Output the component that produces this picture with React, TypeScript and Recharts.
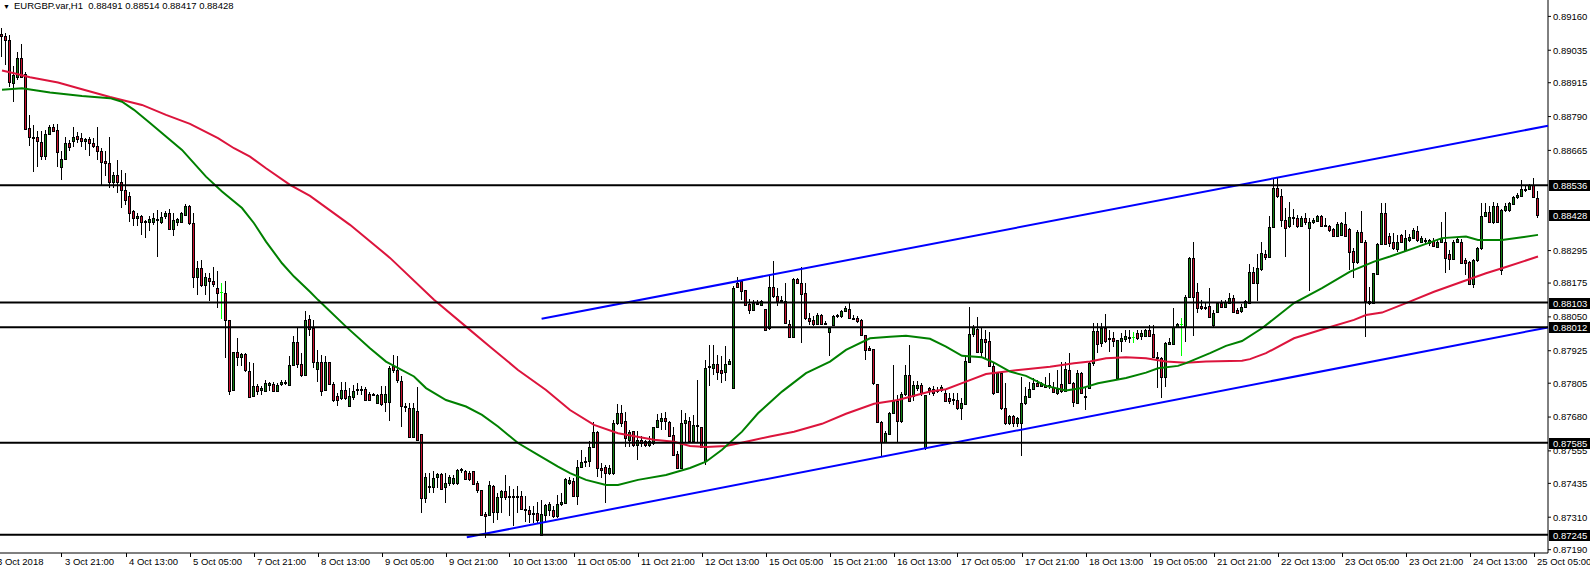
import React from 'react';
import { ComposedChart, Bar, Line, XAxis, YAxis, ReferenceLine } from 'recharts';

const title = 'EURGBP.var,H1  0.88491 0.88514 0.88417 0.88428';

const opens = [
0.89095,0.89088,0.89073,0.88913,0.88938,0.89005,0.88948,0.88747,0.88716,0.88716,
0.88695,0.88646,0.88726,0.88753,0.88741,0.88603,0.88632,0.88694,0.88698,0.88719,
0.88709,0.88699,0.88708,0.88692,0.88682,0.88663,0.88626,0.88618,0.88550,0.88575,
0.88548,0.88519,0.88497,0.88442,0.88415,0.88423,0.88406,0.88400,0.88402,0.88411,
0.88402,0.88421,0.88433,0.88374,0.88402,0.88402,0.88427,0.88460,0.88396,0.88197,
0.88230,0.88168,0.88195,0.88181,0.88156,0.88141,0.88140,0.88039,0.87781,0.87922,
0.87901,0.87914,0.87851,0.87758,0.87795,0.87781,0.87778,0.87799,0.87803,0.87778,
0.87803,0.87805,0.87797,0.87873,0.87959,0.87877,0.87836,0.88042,0.88008,0.87858,
0.87883,0.87781,0.87883,0.87801,0.87756,0.87750,0.87781,0.87721,0.87753,0.87779,
0.87781,0.87783,0.87765,0.87762,0.87731,0.87765,0.87737,0.87737,0.87867,0.87852,
0.87814,0.87721,0.87713,0.87606,0.87703,0.87618,0.87380,0.87424,0.87421,0.87457,
0.87470,0.87421,0.87436,0.87438,0.87438,0.87485,0.87479,0.87475,0.87479,0.87436,
0.87409,0.87321,0.87319,0.87426,0.87331,0.87384,0.87405,0.87387,0.87387,0.87387,
0.87387,0.87340,0.87337,0.87325,0.87325,0.87245,0.87319,0.87335,0.87337,0.87313,
0.87360,0.87364,0.87438,0.87442,0.87387,0.87495,0.87513,0.87516,0.87569,0.87623,
0.87491,0.87495,0.87473,0.87473,0.87657,0.87695,0.87664,0.87596,0.87627,0.87578,
0.87596,0.87590,0.87578,0.87584,0.87643,0.87664,0.87676,0.87660,0.87615,0.87544,
0.87492,0.87658,0.87664,0.87590,0.87650,0.87643,0.87516,0.87867,0.87861,0.87876,
0.87852,0.87845,0.87876,0.87787,0.88177,0.88181,0.88148,0.88099,0.88074,0.88101,
0.88095,0.88079,0.88009,0.88160,0.88126,0.88113,0.88107,0.88025,0.87975,0.88190,
0.88177,0.88138,0.88046,0.88037,0.88025,0.88058,0.88027,0.87996,0.88021,0.88052,
0.88052,0.88070,0.88079,0.88046,0.88046,0.88037,0.87984,0.87935,0.87931,0.87803,
0.87660,0.87586,0.87618,0.87695,0.87741,0.87664,0.87766,0.87836,0.87756,0.87787,
0.87799,0.87565,0.87786,0.87782,0.87780,0.87780,0.87768,0.87749,0.87743,0.87743,
0.87712,0.87728,0.87885,0.87986,0.88004,0.87922,0.87970,0.87961,0.87869,0.87774,
0.87844,0.87712,0.87657,0.87684,0.87657,0.87657,0.87731,0.87755,0.87782,0.87807,
0.87795,0.87798,0.87795,0.87792,0.87768,0.87802,0.87778,0.87854,0.87807,0.87733,
0.87842,0.87755,0.87786,0.87878,0.87998,0.87952,0.88010,0.87971,0.87971,0.87826,
0.87962,0.87967,0.87977,0.87977,0.87989,0.87979,0.87979,0.88002,0.87987,0.87903,
0.87899,0.87829,0.87950,0.87950,0.88014,0.88023,0.88014,0.88125,0.88266,0.88143,
0.88090,0.88088,0.88090,0.88020,0.88069,0.88100,0.88088,0.88103,0.88119,0.88075,
0.88070,0.88088,0.88103,0.88214,0.88177,0.88226,0.88282,0.88273,0.88381,0.88525,
0.88495,0.88408,0.88384,0.88418,0.88415,0.88384,0.88415,0.88378,0.88399,0.88406,
0.88423,0.88386,0.88386,0.88374,0.88349,0.88353,0.88394,0.88374,0.88295,0.88251,
0.88362,0.88325,0.88107,0.88103,0.88209,0.88320,0.88433,0.88349,0.88325,0.88300,
0.88353,0.88298,0.88335,0.88341,0.88369,0.88328,0.88335,0.88322,0.88332,0.88307,
0.88325,0.88328,0.88283,0.88263,0.88325,0.88328,0.88261,0.88254,0.88172,0.88261,
0.88304,0.88423,0.88439,0.88399,0.88458,0.88224,0.88445,0.88445,0.88467,0.88492,
0.88497,0.88522,0.88522,0.88538,0.88491,
];

const highs = [
0.89116,0.89098,0.89092,0.88975,0.89030,0.89058,0.88956,0.88796,0.88759,0.88735,
0.88737,0.88741,0.88759,0.88763,0.88763,0.88661,0.88716,0.88704,0.88753,0.88732,
0.88728,0.88710,0.88714,0.88710,0.88751,0.88673,0.88663,0.88716,0.88587,0.88630,
0.88593,0.88581,0.88513,0.88445,0.88435,0.88427,0.88408,0.88423,0.88433,0.88445,
0.88439,0.88443,0.88448,0.88433,0.88415,0.88439,0.88467,0.88464,0.88433,0.88255,
0.88261,0.88211,0.88211,0.88234,0.88218,0.88174,0.88181,0.88039,0.87922,0.87971,
0.87916,0.87918,0.87885,0.87879,0.87803,0.87793,0.87817,0.87808,0.87811,0.87805,
0.87817,0.87817,0.87904,0.87978,0.88008,0.87916,0.88070,0.88058,0.88039,0.87928,
0.87910,0.87904,0.87883,0.87811,0.87768,0.87811,0.87811,0.87787,0.87799,0.87805,
0.87795,0.87790,0.87771,0.87768,0.87765,0.87793,0.87793,0.87867,0.87910,0.87904,
0.87830,0.87731,0.87731,0.87731,0.87790,0.87618,0.87473,0.87473,0.87479,0.87473,
0.87473,0.87473,0.87467,0.87467,0.87488,0.87491,0.87485,0.87479,0.87479,0.87442,
0.87411,0.87331,0.87442,0.87430,0.87399,0.87411,0.87467,0.87424,0.87414,0.87424,
0.87405,0.87387,0.87350,0.87350,0.87368,0.87374,0.87360,0.87368,0.87350,0.87393,
0.87399,0.87454,0.87460,0.87454,0.87522,0.87559,0.87534,0.87590,0.87660,0.87627,
0.87510,0.87504,0.87504,0.87669,0.87729,0.87725,0.87697,0.87633,0.87627,0.87627,
0.87609,0.87596,0.87609,0.87645,0.87692,0.87695,0.87697,0.87664,0.87645,0.87553,
0.87705,0.87695,0.87682,0.87689,0.87818,0.87645,0.87892,0.87947,0.87947,0.87910,
0.87906,0.87941,0.87894,0.88163,0.88197,0.88187,0.88150,0.88116,0.88113,0.88113,
0.88113,0.88079,0.88200,0.88255,0.88156,0.88126,0.88175,0.88037,0.88193,0.88193,
0.88236,0.88175,0.88064,0.88052,0.88064,0.88062,0.88033,0.88012,0.88058,0.88062,
0.88076,0.88091,0.88101,0.88058,0.88052,0.88042,0.87984,0.87941,0.87931,0.87803,
0.87664,0.87627,0.87697,0.87873,0.87762,0.87771,0.87873,0.87947,0.87812,0.87812,
0.87806,0.87762,0.87792,0.87795,0.87790,0.87798,0.87782,0.87770,0.87768,0.87770,
0.87749,0.87903,0.88088,0.88020,0.88051,0.88014,0.88002,0.87995,0.87878,0.87848,
0.87848,0.87805,0.87688,0.87688,0.87682,0.87829,0.87792,0.87811,0.87823,0.87817,
0.87811,0.87829,0.87842,0.87811,0.87854,0.87885,0.87885,0.87918,0.87811,0.87854,
0.87848,0.87792,0.87885,0.88029,0.88029,0.88026,0.88059,0.88002,0.87995,0.87965,
0.87989,0.88002,0.88002,0.87995,0.88002,0.88002,0.88004,0.88020,0.88020,0.87922,
0.87903,0.87959,0.87971,0.88082,0.88026,0.88045,0.88131,0.88270,0.88328,0.88174,
0.88112,0.88100,0.88156,0.88075,0.88106,0.88112,0.88112,0.88137,0.88131,0.88082,
0.88098,0.88113,0.88246,0.88236,0.88283,0.88325,0.88298,0.88423,0.88562,0.88566,
0.88522,0.88451,0.88476,0.88448,0.88427,0.88421,0.88435,0.88415,0.88415,0.88427,
0.88427,0.88415,0.88390,0.88378,0.88399,0.88399,0.88439,0.88378,0.88304,0.88371,
0.88443,0.88335,0.88162,0.88211,0.88322,0.88472,0.88470,0.88359,0.88359,0.88353,
0.88357,0.88371,0.88357,0.88378,0.88386,0.88349,0.88341,0.88337,0.88341,0.88337,
0.88399,0.88439,0.88298,0.88335,0.88341,0.88337,0.88267,0.88258,0.88263,0.88310,
0.88472,0.88472,0.88458,0.88476,0.88470,0.88448,0.88470,0.88476,0.88497,0.88507,
0.88556,0.88534,0.88541,0.88562,0.88514,
];

const lows = [
0.89011,0.88981,0.88901,0.88845,0.88925,0.88932,0.88741,0.88682,0.88587,0.88605,
0.88630,0.88628,0.88722,0.88735,0.88605,0.88554,0.88630,0.88661,0.88679,0.88692,
0.88679,0.88667,0.88645,0.88673,0.88630,0.88538,0.88571,0.88525,0.88525,0.88507,
0.88452,0.88464,0.88399,0.88384,0.88384,0.88353,0.88341,0.88369,0.88390,0.88273,
0.88394,0.88411,0.88372,0.88349,0.88384,0.88396,0.88421,0.88390,0.88156,0.88131,
0.88162,0.88131,0.88107,0.88162,0.88082,0.88042,0.87898,0.87762,0.87778,0.87867,
0.87867,0.87845,0.87754,0.87756,0.87762,0.87762,0.87771,0.87778,0.87774,0.87771,
0.87795,0.87799,0.87793,0.87867,0.87861,0.87827,0.87830,0.87978,0.87861,0.87811,
0.87758,0.87778,0.87799,0.87737,0.87719,0.87744,0.87744,0.87721,0.87744,0.87762,
0.87762,0.87741,0.87741,0.87756,0.87729,0.87721,0.87697,0.87664,0.87842,0.87805,
0.87645,0.87697,0.87645,0.87606,0.87596,0.87325,0.87362,0.87399,0.87399,0.87417,
0.87411,0.87362,0.87424,0.87430,0.87430,0.87473,0.87448,0.87442,0.87430,0.87399,
0.87313,0.87233,0.87313,0.87288,0.87300,0.87325,0.87374,0.87313,0.87276,0.87325,
0.87335,0.87294,0.87288,0.87290,0.87290,0.87239,0.87294,0.87313,0.87306,0.87306,
0.87350,0.87362,0.87430,0.87387,0.87356,0.87491,0.87495,0.87495,0.87565,0.87460,
0.87454,0.87362,0.87467,0.87467,0.87651,0.87645,0.87571,0.87571,0.87571,0.87520,
0.87571,0.87571,0.87571,0.87578,0.87639,0.87633,0.87633,0.87609,0.87537,0.87488,
0.87488,0.87584,0.87584,0.87584,0.87584,0.87565,0.87504,0.87793,0.87836,0.87818,
0.87806,0.87812,0.87873,0.87787,0.88156,0.88113,0.88089,0.88062,0.88070,0.88099,
0.88091,0.88000,0.88003,0.88119,0.88089,0.88101,0.88025,0.87975,0.87975,0.88175,
0.87953,0.88039,0.88021,0.88015,0.88021,0.88021,0.88021,0.87904,0.88017,0.88046,
0.88046,0.88067,0.88042,0.88037,0.88027,0.87980,0.87892,0.87929,0.87799,0.87658,
0.87537,0.87584,0.87615,0.87692,0.87584,0.87658,0.87756,0.87738,0.87741,0.87775,
0.87756,0.87558,0.87762,0.87758,0.87770,0.87774,0.87737,0.87728,0.87725,0.87706,
0.87669,0.87725,0.87881,0.87977,0.87922,0.87897,0.87897,0.87864,0.87762,0.87768,
0.87706,0.87651,0.87651,0.87645,0.87645,0.87536,0.87725,0.87749,0.87780,0.87792,
0.87790,0.87790,0.87782,0.87768,0.87762,0.87770,0.87772,0.87802,0.87718,0.87731,
0.87768,0.87706,0.87786,0.87869,0.87915,0.87940,0.87952,0.87922,0.87940,0.87823,
0.87922,0.87959,0.87952,0.87952,0.87965,0.87965,0.87977,0.87977,0.87897,0.87786,
0.87749,0.87792,0.87946,0.87946,0.88008,0.87906,0.87959,0.88119,0.87979,0.88063,
0.88075,0.88075,0.88045,0.88014,0.88063,0.88082,0.88082,0.88098,0.88066,0.88063,
0.88066,0.88082,0.88101,0.88172,0.88107,0.88218,0.88261,0.88267,0.88378,0.88488,
0.88381,0.88270,0.88378,0.88390,0.88378,0.88381,0.88390,0.88147,0.88394,0.88402,
0.88384,0.88384,0.88365,0.88344,0.88347,0.88349,0.88347,0.88224,0.88193,0.88246,
0.88322,0.87977,0.88094,0.88101,0.88205,0.88316,0.88316,0.88310,0.88298,0.88291,
0.88325,0.88295,0.88328,0.88337,0.88328,0.88325,0.88320,0.88312,0.88307,0.88304,
0.88322,0.88211,0.88224,0.88261,0.88322,0.88246,0.88205,0.88168,0.88156,0.88254,
0.88298,0.88418,0.88396,0.88394,0.88396,0.88205,0.88439,0.88439,0.88464,0.88485,
0.88492,0.88513,0.88517,0.88488,0.88417,
];

const closes = [
0.89088,0.89071,0.88916,0.88944,0.89005,0.88938,0.88743,0.88714,0.88710,0.88698,
0.88645,0.88725,0.88751,0.88738,0.88658,0.88632,0.88692,0.88679,0.88716,0.88706,
0.88698,0.88708,0.88692,0.88682,0.88663,0.88624,0.88618,0.88550,0.88575,0.88548,
0.88519,0.88480,0.88435,0.88415,0.88423,0.88402,0.88400,0.88411,0.88416,0.88408,
0.88418,0.88433,0.88374,0.88408,0.88411,0.88433,0.88460,0.88396,0.88197,0.88230,
0.88168,0.88199,0.88181,0.88172,0.88140,0.88141,0.88039,0.87778,0.87920,0.87901,
0.87914,0.87852,0.87754,0.87795,0.87778,0.87787,0.87805,0.87805,0.87778,0.87799,
0.87811,0.87811,0.87873,0.87959,0.87877,0.87836,0.88039,0.88005,0.87883,0.87883,
0.87778,0.87882,0.87801,0.87744,0.87744,0.87781,0.87750,0.87758,0.87778,0.87785,
0.87783,0.87744,0.87744,0.87764,0.87762,0.87729,0.87766,0.87861,0.87852,0.87818,
0.87721,0.87717,0.87606,0.87713,0.87596,0.87380,0.87457,0.87422,0.87454,0.87470,
0.87414,0.87438,0.87457,0.87454,0.87483,0.87487,0.87451,0.87451,0.87433,0.87409,
0.87319,0.87315,0.87430,0.87331,0.87384,0.87405,0.87384,0.87385,0.87389,0.87385,
0.87340,0.87342,0.87323,0.87323,0.87300,0.87323,0.87356,0.87360,0.87315,0.87360,
0.87368,0.87451,0.87448,0.87387,0.87497,0.87513,0.87516,0.87571,0.87623,0.87491,
0.87485,0.87473,0.87491,0.87657,0.87694,0.87658,0.87602,0.87623,0.87578,0.87594,
0.87584,0.87578,0.87590,0.87643,0.87668,0.87676,0.87664,0.87611,0.87541,0.87492,
0.87658,0.87668,0.87590,0.87652,0.87648,0.87571,0.87861,0.87865,0.87876,0.87845,
0.87842,0.87876,0.87888,0.88156,0.88160,0.88144,0.88095,0.88074,0.88103,0.88099,
0.88107,0.88003,0.88160,0.88126,0.88107,0.88111,0.88027,0.87975,0.88190,0.88175,
0.88135,0.88046,0.88033,0.88025,0.88058,0.88025,0.88025,0.88009,0.88054,0.88058,
0.88070,0.88083,0.88046,0.88044,0.88033,0.87984,0.87929,0.87929,0.87806,0.87660,
0.87586,0.87621,0.87695,0.87741,0.87664,0.87766,0.87836,0.87741,0.87799,0.87799,
0.87769,0.87762,0.87780,0.87768,0.87778,0.87792,0.87741,0.87741,0.87745,0.87712,
0.87731,0.87887,0.87986,0.88011,0.87922,0.87970,0.87959,0.87869,0.87770,0.87842,
0.87712,0.87657,0.87684,0.87657,0.87675,0.87731,0.87758,0.87782,0.87805,0.87795,
0.87805,0.87792,0.87797,0.87774,0.87782,0.87778,0.87856,0.87805,0.87737,0.87842,
0.87770,0.87757,0.87878,0.87998,0.87949,0.88010,0.87961,0.87969,0.87962,0.87965,
0.87971,0.87979,0.87975,0.87977,0.87971,0.87992,0.88002,0.87979,0.87903,0.87897,
0.87829,0.87955,0.87959,0.88014,0.88023,0.88023,0.88125,0.88266,0.88125,0.88082,
0.88082,0.88086,0.88051,0.88066,0.88100,0.88085,0.88106,0.88119,0.88069,0.88066,
0.88088,0.88107,0.88214,0.88177,0.88230,0.88285,0.88273,0.88381,0.88525,0.88495,
0.88408,0.88380,0.88418,0.88416,0.88384,0.88415,0.88402,0.88402,0.88408,0.88423,
0.88386,0.88388,0.88371,0.88347,0.88394,0.88396,0.88349,0.88291,0.88251,0.88362,
0.88325,0.88107,0.88103,0.88211,0.88320,0.88433,0.88320,0.88322,0.88304,0.88325,
0.88328,0.88343,0.88344,0.88371,0.88335,0.88341,0.88333,0.88335,0.88312,0.88328,
0.88341,0.88267,0.88263,0.88328,0.88337,0.88248,0.88248,0.88172,0.88261,0.88304,
0.88423,0.88439,0.88399,0.88460,0.88402,0.88445,0.88458,0.88470,0.88492,0.88501,
0.88522,0.88524,0.88538,0.88492,0.88428,
];

// moving averages at selected bars
const greenMaIdx = [0,5,12,20,27,30,33,37,41,45,51,55,60,63,66,70,73,77,79,86,92,96,103,106,111,116,120,124,129,134,139,142,146,151,154,159,166,172,176,180,185,189,195,201,207,211,217,222,226,232,236,240,245,248,252,256,261,266,270,274,281,286,289,294,296,302,306,310,315,323,330,337,343,347,353,360,366,369,375,380,384];
const greenMaVal = [0.88889,0.88895,0.88879,0.88866,0.88858,0.88845,0.88815,0.88766,0.88716,0.88667,0.88568,0.88513,0.88452,0.88396,0.88328,0.88248,0.88199,0.88143,0.88113,0.88014,0.87934,0.87885,0.87830,0.87787,0.87743,0.87719,0.87688,0.87645,0.87584,0.87540,0.87497,0.87473,0.87448,0.87429,0.87429,0.87448,0.87466,0.87492,0.87515,0.87559,0.87626,0.87694,0.87774,0.87842,0.87885,0.87928,0.87971,0.87977,0.87980,0.87969,0.87940,0.87906,0.87901,0.87881,0.87848,0.87832,0.87795,0.87778,0.87787,0.87805,0.87824,0.87844,0.87860,0.87869,0.87879,0.87916,0.87943,0.87961,0.88008,0.88101,0.88156,0.88217,0.88254,0.88273,0.88304,0.88341,0.88347,0.88334,0.88334,0.88344,0.88353];
const redMaIdx = [0,3,7,14,20,27,35,41,47,54,58,62,66,72,77,87,97,108,116,122,129,136,142,148,154,163,168,172,176,181,186,192,198,205,211,218,224,232,236,241,246,251,256,262,268,272,276,281,286,291,296,301,310,312,316,323,331,338,341,345,351,358,365,371,376,384];
const redMaVal = [0.88960,0.88950,0.88935,0.88916,0.88891,0.88862,0.88833,0.88796,0.88763,0.88710,0.88673,0.88642,0.88599,0.88538,0.88497,0.88390,0.88268,0.88113,0.88014,0.87940,0.87854,0.87780,0.87706,0.87651,0.87620,0.87596,0.87589,0.87573,0.87569,0.87573,0.87589,0.87608,0.87626,0.87655,0.87692,0.87729,0.87743,0.87774,0.87783,0.87811,0.87839,0.87848,0.87857,0.87866,0.87879,0.87885,0.87897,0.87901,0.87897,0.87885,0.87881,0.87885,0.87888,0.87894,0.87916,0.87971,0.88008,0.88039,0.88057,0.88066,0.88101,0.88143,0.88180,0.88211,0.88234,0.88273];

const firstDateLabel = '3 Oct 2018';
const dateTickIdx = [15,31,47,63,79,95,111,127,143,159,175,191,207,223,239,255,271,287,303,319,335,351,367,383];
const dateTickLabels = ['3 Oct 21:00','4 Oct 13:00','5 Oct 05:00','7 Oct 21:00','8 Oct 13:00','9 Oct 05:00','9 Oct 21:00','10 Oct 13:00','11 Oct 05:00','11 Oct 21:00','12 Oct 13:00','15 Oct 05:00','15 Oct 21:00','16 Oct 13:00','17 Oct 05:00','17 Oct 21:00','18 Oct 13:00','19 Oct 05:00','21 Oct 21:00','22 Oct 13:00','23 Oct 05:00','23 Oct 21:00','24 Oct 13:00','25 Oct 05:00'];

const priceTicks = [0.8916,0.89035,0.88915,0.8879,0.88665,0.88295,0.88175,0.8805,0.87925,0.87805,0.8768,0.87555,0.87435,0.8731,0.8719];
const priceDomain = [0.871778, 0.892206];
const barDomain = [-0.5, 386.5];

const levelLines = [0.88536, 0.88103, 0.88012, 0.87585, 0.87245];
const lastPrice = 0.88428;
const upperChannel = [{ x: 134.9, y: 0.88043 }, { x: 386.5, y: 0.88756 }];
const lowerChannel = [{ x: 116.2, y: 0.87236 }, { x: 386.5, y: 0.88011 }];

const FONT = '"Liberation Sans", Arial, sans-serif';
const BULL = '#138013';
const BEAR = '#c8102e';
const DOJI = '#00ff00';

const data = opens.map((o, i) => {
  const c = closes[i];
  const h = Math.max(highs[i], o, c);
  const l = Math.min(lows[i], o, c);
  return { i, o, h, l, c, range: [l, h], gma: null as number | null, rma: null as number | null };
});
greenMaIdx.forEach((idx, k) => { data[idx].gma = greenMaVal[k]; });
redMaIdx.forEach((idx, k) => { data[idx].rma = redMaVal[k]; });

const CandleShape = (props: any) => {
  const { x, y, width, height, payload } = props;
  if (!payload || height == null) return null;
  const { o, c, h, l } = payload;
  const cx = Math.floor(x + width / 2) + 0.5;
  const k = h > l ? height / (h - l) : 0;
  const py = (v: number) => y + (h - v) * k;
  const top = Math.round(py(Math.max(o, c)));
  const bot = Math.round(py(Math.min(o, c)));
  const wy1 = Math.round(y);
  const wy2 = Math.round(y + height);
  if (o === c) {
    return (
      <g shapeRendering="crispEdges">
        <line x1={cx} x2={cx} y1={wy1} y2={wy2} stroke={DOJI} strokeWidth={1} />
        <line x1={cx - 1.5} x2={cx + 1.5} y1={top + 0.5} y2={top + 0.5} stroke={DOJI} strokeWidth={1} />
      </g>
    );
  }
  const fill = c > o ? BULL : BEAR;
  const rh = Math.max(bot - top, 1);
  return (
    <g shapeRendering="crispEdges">
      <line x1={cx} x2={cx} y1={wy1} y2={wy2} stroke="#000" strokeWidth={1} />
      <rect x={cx - 1} y={top + 0.5} width={2} height={rh} fill={fill} stroke="#000" strokeWidth={1} />
    </g>
  );
};

const DateTick = (props: any) => {
  const { x, y, payload } = props;
  const v = payload.value;
  if (v === barDomain[0]) {
    return (
      <text x={x - 3} y={y + 12} fontSize={9.5} fontFamily={FONT} fill="#000" textAnchor="start">{firstDateLabel}</text>
    );
  }
  const idx = dateTickIdx.indexOf(v);
  const label = idx >= 0 ? dateTickLabels[idx] : '';
  const lx = Math.floor(x) + 0.5;
  return (
    <g>
      <line x1={lx} x2={lx} y1={y} y2={y + 4} stroke="#000" strokeWidth={1} shapeRendering="crispEdges" />
      <text x={x + 3} y={y + 12} fontSize={9.5} fontFamily={FONT} fill="#000" textAnchor="start">{label}</text>
    </g>
  );
};

const makeBox = (value: number) => (props: any) => {
  const vb = props.viewBox || {};
  const bx = vb.x + vb.width + 1;
  const by = Math.round(vb.y) - 5;
  return (
    <g>
      <rect x={bx} y={by} width={42} height={11} fill="#000" />
      <text x={bx + 4} y={by + 9} fontSize={9.5} fontFamily={FONT} fill="#fff" textAnchor="start">{value.toFixed(5)}</text>
    </g>
  );
};

export default function App() {
  return (
    <div style={{ position: 'absolute', left: 0, top: 0, width: 1590, height: 571, background: '#fff', overflow: 'hidden' }}>
      <ComposedChart width={1590} height={571} data={data} margin={{ top: 0, right: 0, bottom: 0, left: 0 }}>
        <XAxis
          type="number"
          dataKey="i"
          domain={barDomain}
          allowDataOverflow
          ticks={[barDomain[0], ...dateTickIdx]}
          interval={0}
          height={18}
          tickLine={false}
          tickSize={0}
          tickMargin={0}
          axisLine={{ stroke: '#000', strokeWidth: 1 }}
          tick={<DateTick />}
        />
        <YAxis
          orientation="right"
          type="number"
          domain={priceDomain}
          allowDataOverflow
          ticks={priceTicks}
          interval={0}
          width={42}
          tickSize={3}
          tickMargin={2}
          axisLine={{ stroke: '#000', strokeWidth: 1 }}
          tickLine={{ stroke: '#000' }}
          tick={{ fontSize: 9.5, fontFamily: FONT, fill: '#000', textAnchor: 'start' }}
          tickFormatter={(v: number) => v.toFixed(5)}
        />
        <Bar dataKey="range" barSize={3} shape={<CandleShape />} isAnimationActive={false} zIndex={300} />
        <Line dataKey="rma" type="linear" stroke="#dc143c" strokeWidth={2} dot={false} activeDot={false} connectNulls isAnimationActive={false} zIndex={500} />
        <Line dataKey="gma" type="linear" stroke="#008000" strokeWidth={2} dot={false} activeDot={false} connectNulls isAnimationActive={false} zIndex={500} />
        <ReferenceLine segment={upperChannel} stroke="#0000ff" strokeWidth={2} ifOverflow="visible" zIndex={600} />
        <ReferenceLine segment={lowerChannel} stroke="#0000ff" strokeWidth={2} ifOverflow="visible" zIndex={600} />
        {levelLines.map((v) => (
          <ReferenceLine key={v} y={v} stroke="#000" strokeWidth={2} ifOverflow="visible" label={makeBox(v)} zIndex={600} />
        ))}
        <ReferenceLine y={lastPrice} stroke="#000" strokeOpacity={0} ifOverflow="visible" label={makeBox(lastPrice)} zIndex={600} />
      </ComposedChart>
      <div style={{ position: 'absolute', left: 3, top: -1, fontFamily: FONT, fontSize: 9.5, color: '#000', whiteSpace: 'pre', lineHeight: '13px' }}>
        <span style={{ fontSize: 7, marginRight: 4 }}>▼</span>{title}
      </div>
    </div>
  );
}
